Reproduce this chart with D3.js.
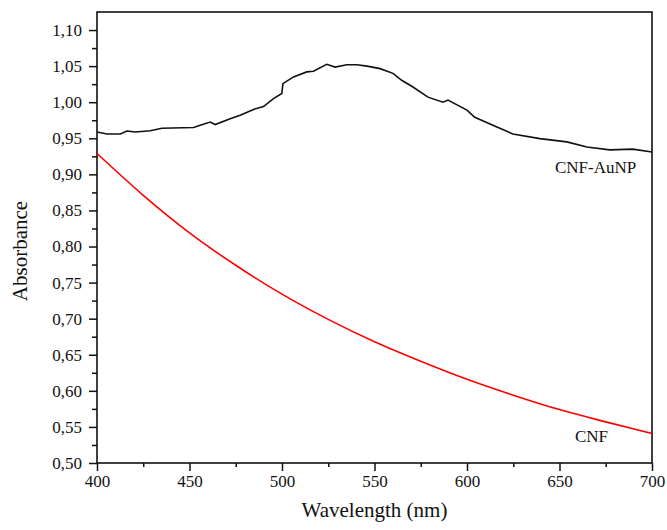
<!DOCTYPE html>
<html>
<head>
<meta charset="utf-8">
<script src="https://cdn.jsdelivr.net/npm/d3@7"></script>
<style>
  body { margin: 0; background: #fff; }
  svg text { font-family: "Liberation Serif", "DejaVu Serif", serif; fill: #111; }
</style>
</head>
<body>
<svg width="667" height="530"></svg>
<script>
// CNF-AuNP spectrum
const aunpWave = [400, 405.4, 412.6, 416.2, 420.7, 428.8, 435.1, 452.2, 455.8, 461.2, 463.9, 472, 477.4, 484.6, 490, 495.4, 499.9,
  500.5, 506.2, 513.4, 517, 524.2, 528.7, 535, 540.4, 546, 553, 560, 564.9, 570.8, 578.9, 587, 589.7, 600, 604.2, 614, 624.8,
  639.4, 654, 664.8, 677.2, 689.6, 700];
const aunpAbs = [0.9587, 0.956, 0.956, 0.960, 0.9587, 0.9605, 0.9638, 0.965, 0.968, 0.9725, 0.969, 0.977, 0.982, 0.990, 0.994,
  1.005, 1.012, 1.0257, 1.035, 1.042, 1.043, 1.0525, 1.0487, 1.052, 1.0518, 1.050, 1.0465, 1.040, 1.030, 1.021, 1.007, 1.000,
  1.003, 0.989, 0.979, 0.968, 0.956, 0.9495, 0.945, 0.938, 0.934, 0.935, 0.931];

// CNF spectrum
const cnfWave = [400, 425, 450, 475, 500, 525, 550, 575, 600, 625, 650, 675, 700];
const cnfAbs = [0.929, 0.871, 0.819, 0.774, 0.734, 0.699, 0.668, 0.641, 0.616, 0.594, 0.574, 0.557, 0.541];

const xTicks = [400, 450, 500, 550, 600, 650, 700];
const yTicks = [0.50, 0.55, 0.60, 0.65, 0.70, 0.75, 0.80, 0.85, 0.90, 0.95, 1.00, 1.05, 1.10];

const svg = d3.select("svg");
const m = {left: 97, right: 652, top: 12, bottom: 463};
const serif = "'Liberation Serif', 'DejaVu Serif', serif";

const x = d3.scaleLinear().domain([400, 700]).range([m.left, m.right]);
const y = d3.scaleLinear().domain([0.5, 1.125]).range([m.bottom, m.top]);

const fmt = d => d.toFixed(2).replace(".", ",");

// minor ticks
const xMinor = d3.range(425, 700, 50);
const yMinor = d3.range(0.525, 1.125, 0.05);

svg.append("g")
  .attr("transform", `translate(0,${m.bottom})`)
  .call(d3.axisBottom(x).tickValues(xMinor).tickSize(4).tickFormat(""))
  .call(g => g.select(".domain").remove())
  .call(g => g.selectAll("line").attr("stroke", "#111").attr("stroke-width", 1.5));

svg.append("g")
  .attr("transform", `translate(${m.left},0)`)
  .call(d3.axisLeft(y).tickValues(yMinor).tickSize(5).tickFormat(""))
  .call(g => g.select(".domain").remove())
  .call(g => g.selectAll("line").attr("stroke", "#111").attr("stroke-width", 1.5));

svg.append("g")
  .attr("transform", `translate(0,${m.bottom})`)
  .attr("font-family", serif)
  .call(d3.axisBottom(x).tickValues(xTicks).tickSize(8).tickPadding(4).tickFormat(d3.format("d")))
  .attr("font-family", serif)
  .call(g => g.select(".domain").remove())
  .call(g => g.selectAll("line").attr("stroke", "#111").attr("stroke-width", 1.5))
  .call(g => g.selectAll("text").attr("font-size", 17).attr("fill", "#111"));

svg.append("g")
  .attr("transform", `translate(${m.left},0)`)
  .call(d3.axisLeft(y).tickValues(yTicks).tickSize(8).tickPadding(7).tickFormat(fmt))
  .attr("font-family", serif)
  .call(g => g.select(".domain").remove())
  .call(g => g.selectAll("line").attr("stroke", "#111").attr("stroke-width", 1.5))
  .call(g => g.selectAll("text").attr("font-size", 17).attr("fill", "#111"));

// frame
svg.append("rect")
  .attr("x", m.left).attr("y", m.top)
  .attr("width", m.right - m.left).attr("height", m.bottom - m.top)
  .attr("fill", "none").attr("stroke", "#111").attr("stroke-width", 1.6);

const line = d3.line().x(d => x(d[0])).y(d => y(d[1]));

svg.append("path")
  .datum(aunpWave.map((w, i) => [w, aunpAbs[i]]))
  .attr("d", line)
  .attr("fill", "none").attr("stroke", "#111").attr("stroke-width", 1.6);

svg.append("path")
  .datum(cnfWave.map((w, i) => [w, cnfAbs[i]]))
  .attr("d", d3.line().curve(d3.curveMonotoneX).x(d => x(d[0])).y(d => y(d[1])))
  .attr("fill", "none").attr("stroke", "#ff0000").attr("stroke-width", 1.6);

// labels
const lab = svg.append("g").attr("font-family", serif).attr("fill", "#111");
lab.append("text").attr("x", 555).attr("y", 173).attr("font-size", 17).text("CNF-AuNP");
lab.append("text").attr("x", 575).attr("y", 442).attr("font-size", 17).text("CNF");

lab.append("text")
  .attr("x", (m.left + m.right) / 2).attr("y", 517)
  .attr("text-anchor", "middle").attr("font-size", 21)
  .text("Wavelength (nm)");

lab.append("text")
  .attr("transform", "translate(27,251) rotate(-90)")
  .attr("text-anchor", "middle").attr("font-size", 21)
  .text("Absorbance");
</script>
</body>
</html>
